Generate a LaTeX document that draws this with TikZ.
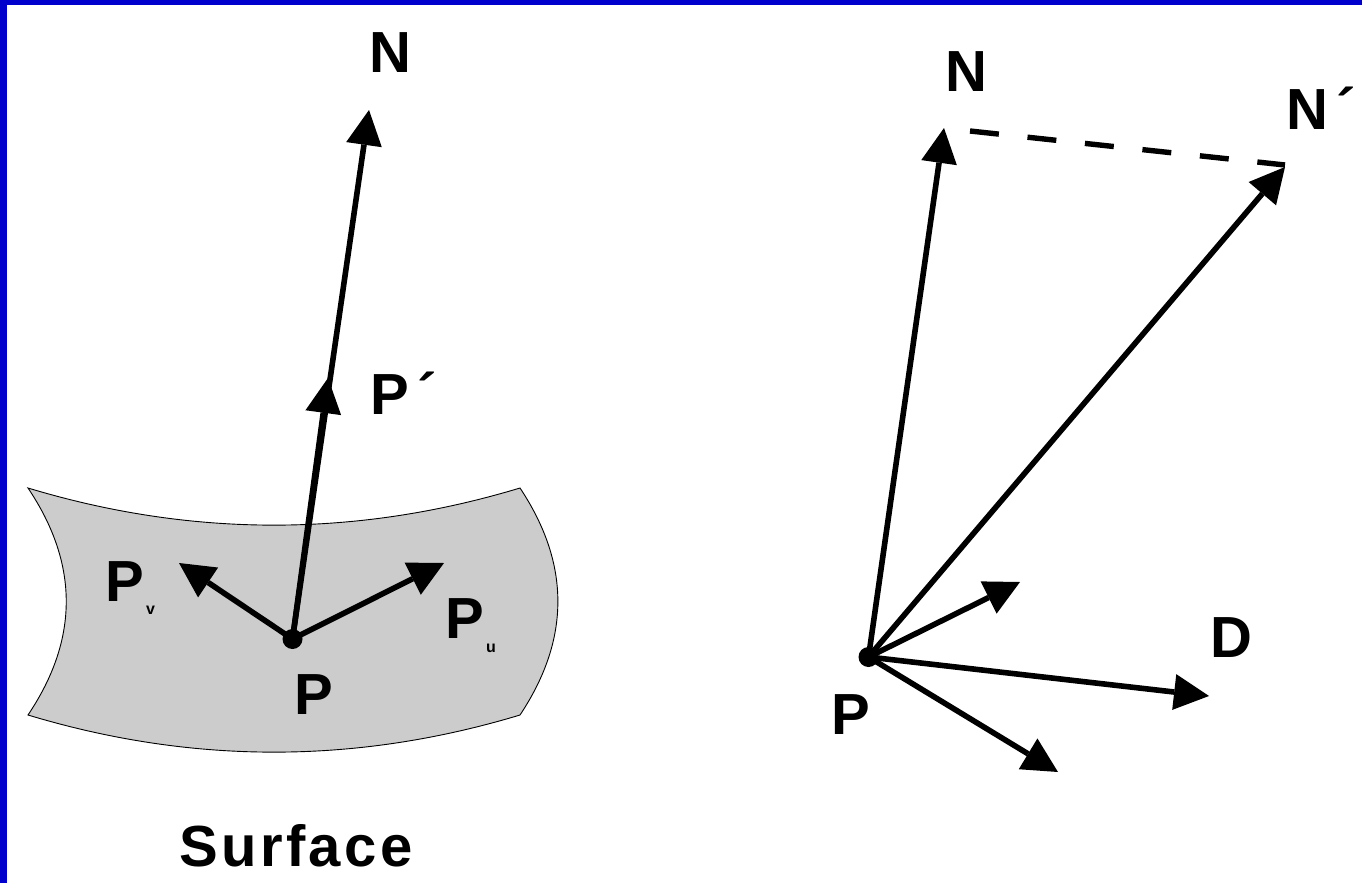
\documentclass[tikz,border=0pt]{standalone}
\usepackage{fontspec}
\setmainfont{Liberation Sans}[BoldFont={Liberation Sans Bold}]
\newfontfamily\spaced{Liberation Sans Bold}[LetterSpace=5.8]
\usetikzlibrary{arrows.meta}
\definecolor{frameblue}{RGB}{0,0,204}
\definecolor{surfacegray}{RGB}{204,204,204}
\tikzset{
  vec/.style={line width=5.6pt,-{Triangle[length=35pt,width=36pt,line width=0pt]},shorten >=0pt},
  lab/.style={inner sep=0pt,outer sep=0pt,font=\fontsize{58}{58}\selectfont\bfseries},
  sublab/.style={inner sep=0pt,outer sep=0pt,font=\fontsize{16}{16}\selectfont\bfseries},
  dot/.style={circle,fill=black,inner sep=0pt,minimum size=20pt},
  helper/.style={dash pattern=on 29pt off 28.8pt,line width=5.4pt}
}
\begin{document}
\begin{tikzpicture}[x=1pt,y=-1pt]
\useasboundingbox (0,0) rectangle (1362,883);
\fill[frameblue] (0,0) rectangle (1362,5.5);
\fill[frameblue] (0,0) rectangle (6.5,883);
% surface
\draw[fill=surfacegray,draw=black,line width=0.9pt]
  (28,488) .. controls (192,537.5) and (356,537.5) .. (520,488)
  .. controls (570.5,564) and (570.5,639) .. (520,715)
  .. controls (356,764.5) and (192,764.5) .. (28,715)
  .. controls (79,639) and (79,564) .. (28,488) -- cycle;
% left figure
\node[dot] (pl) at (292.5,639) {};
\coordinate (nl) at (369,110);
\coordinate (ppl) at (328,378);
\coordinate (pvt) at (179,563);
\coordinate (put) at (444,563);
\draw[vec] (pl.center) -- (nl);
\draw[vec] (pl.center) -- (ppl);
\draw[vec] (pl.center) -- (pvt);
\draw[vec] (pl.center) -- (put);
\node[lab] (Nl) at (390,53) {N};
\node[lab,anchor=west] (Ppl) at (370,393) {P\kern9pt´};
\node[lab] (Pv) at (125,582) {P};
\node[sublab] (v) at (150.5,610) {v};
\node[lab] (Pu) at (465,619) {P};
\node[sublab] (u) at (491,648) {u};
\node[lab] (Pl) at (314,695) {P};
\node[inner sep=0pt,font=\fontsize{58}{58}\spaced] (surf) at (296,846) {Surface};
% right figure
\node[dot] (pr) at (868.5,657) {};
\coordinate (nr) at (944,128);
\coordinate (npr) at (1285,167);
\coordinate (dsend) at (1285,165);
\coordinate (a1) at (1020,582);
\coordinate (d) at (1209,696);
\coordinate (a2) at (1058,772);
\coordinate (ds) at (970,131);
\draw[vec] (pr.center) -- (nr);
\draw[vec] (pr.center) -- (npr);
\draw[vec] (pr.center) -- (a1);
\draw[vec] (pr.center) -- (d);
\draw[vec] (pr.center) -- (a2);
\draw[helper] (ds) -- (dsend);
\node[lab] (Nr) at (966,72) {N};
\node[lab,anchor=west] (Npr) at (1286,108) {N\kern9pt´};
\node[lab] (Pr) at (851,715) {P};
\node[lab] (D) at (1231,638) {D};
\end{tikzpicture}
\end{document}
